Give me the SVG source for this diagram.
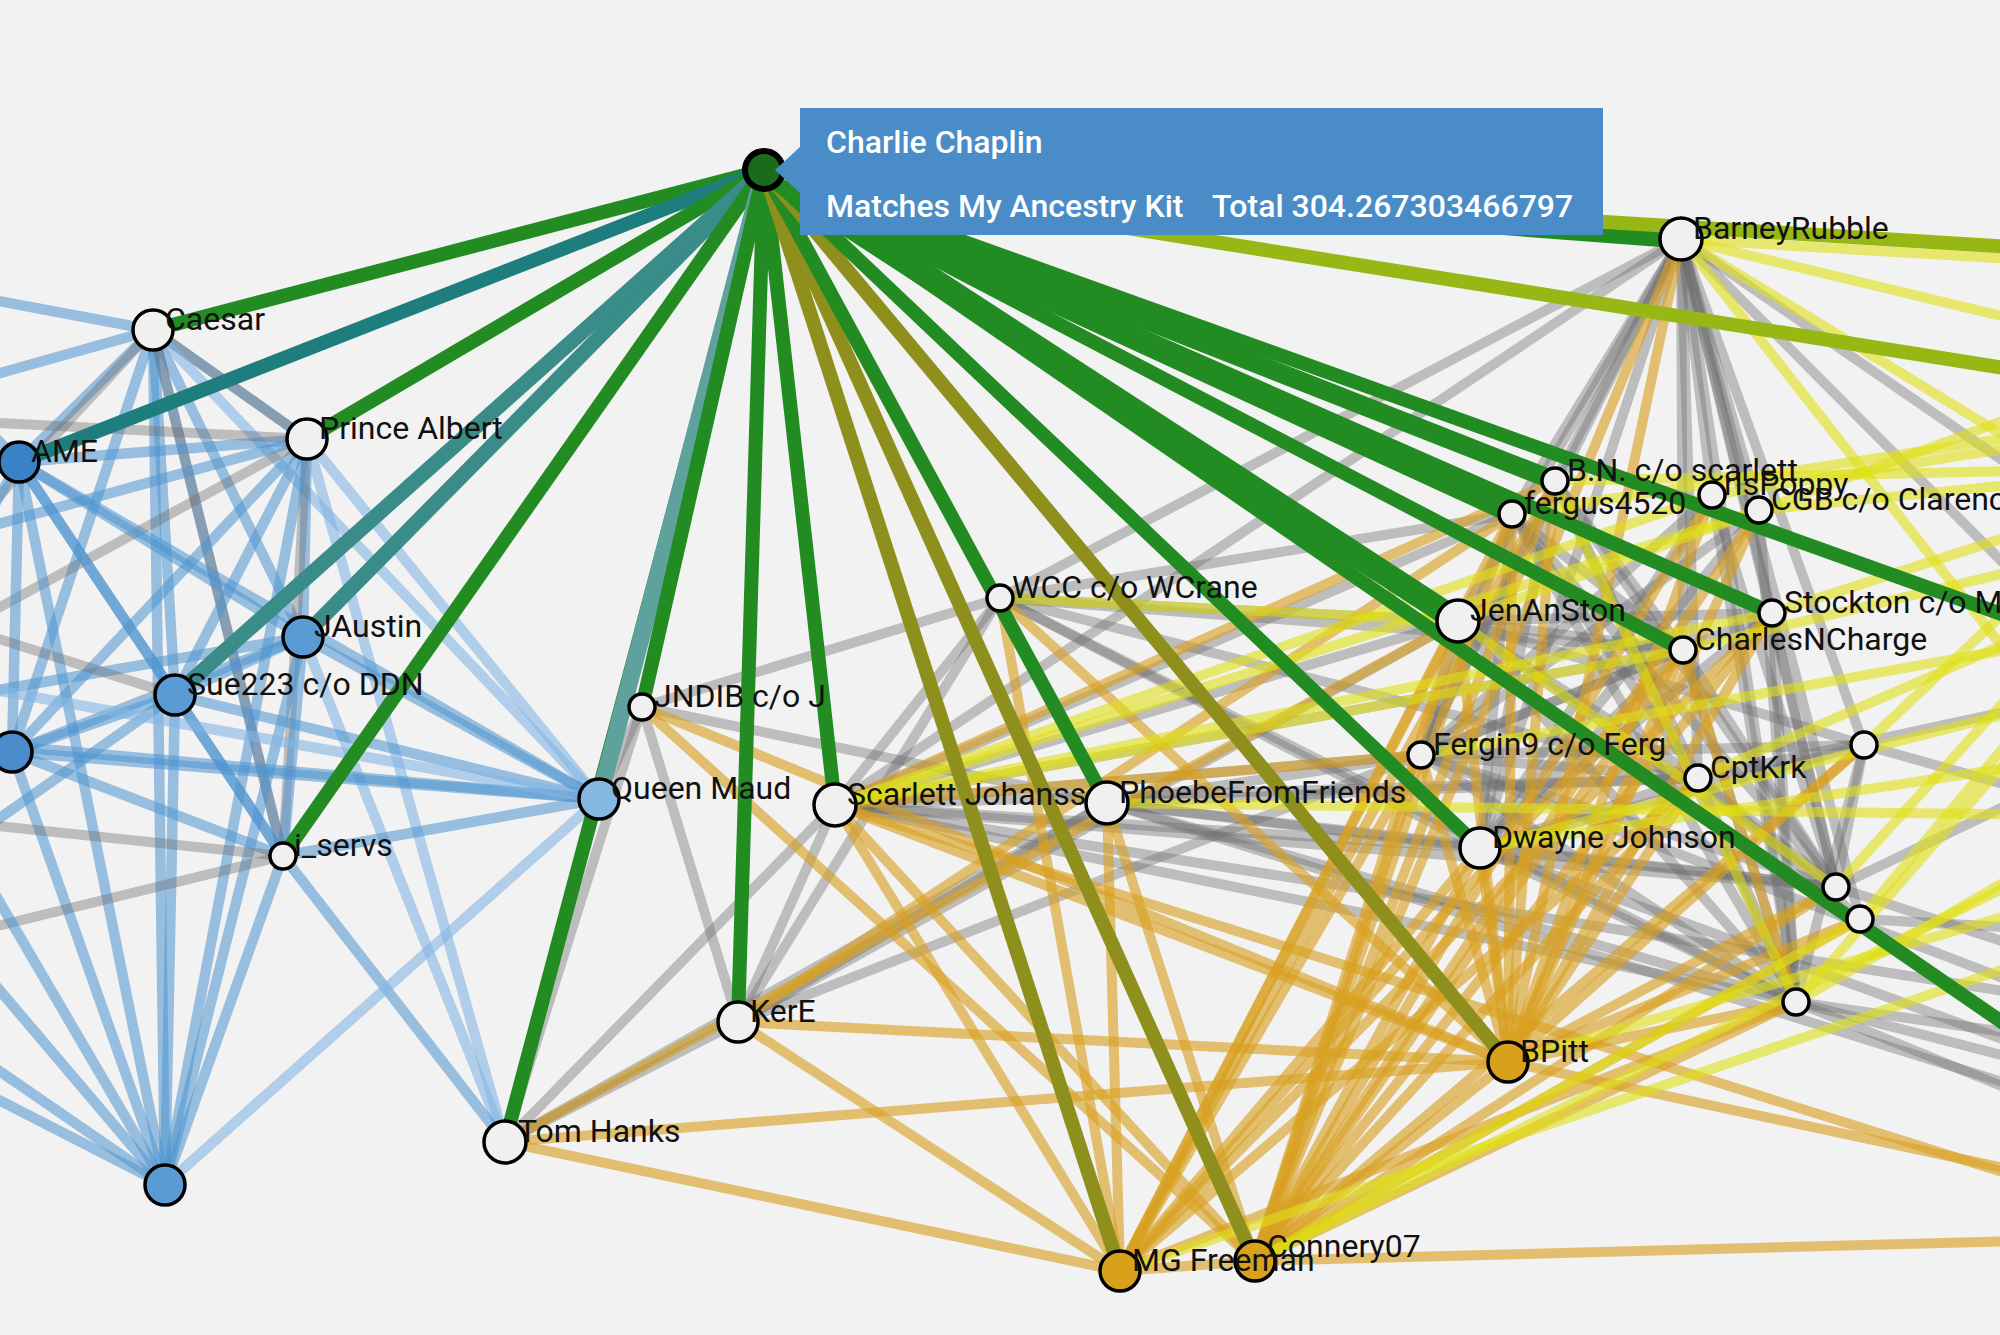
<svg xmlns="http://www.w3.org/2000/svg" width="2000" height="1335" viewBox="0 0 2000 1335">
<style>
line{fill:none}
.b{stroke:#4f93d0;stroke-opacity:.55;stroke-width:10.5}
.bl{stroke:#84b6e2;stroke-opacity:.6;stroke-width:10.5}
.k{stroke:#6f6f6f;stroke-opacity:.4;stroke-width:10}
.o{stroke:#d9a021;stroke-opacity:.62;stroke-width:10}
.y{stroke:#e0e014;stroke-opacity:.6;stroke-width:10}
.g{stroke:#228b22;stroke-width:14}
.gw{stroke:#228b22;stroke-width:24}
.gm{stroke:#228b22;stroke-width:19}
.tl{stroke:#1e7d7d;stroke-width:14}
.tm{stroke:#3a8c88;stroke-width:15}
.tq{stroke:#5fa19c;stroke-width:17}
.ol{stroke:#8e8f1c;stroke-width:14}
.yg{stroke:#97b714;stroke-width:14}
.n{stroke:#000;stroke-width:3.5}
.w{fill:#f0f0f0}
.lbl{font-family:Roboto,"Liberation Sans",sans-serif;font-size:32px;fill:#111}
.tt{font-family:Roboto,"Liberation Sans",sans-serif;font-size:32px;font-weight:500;fill:#fff}
</style>
<rect width="2000" height="1335" fill="#f2f2f2"/>
<g id="connectors">
<line class="b" x1="153" y1="330" x2="307" y2="439"/>
<line class="k" x1="153" y1="330" x2="307" y2="439"/>
<line class="b" x1="153" y1="330" x2="19" y2="462"/>
<line class="b" x1="153" y1="330" x2="303" y2="637"/>
<line class="b" x1="153" y1="330" x2="175" y2="695"/>
<line class="b" x1="153" y1="330" x2="12" y2="752"/>
<line class="b" x1="153" y1="330" x2="165" y2="1185"/>
<line class="bl" x1="153" y1="330" x2="599" y2="799"/>
<line class="b" x1="153" y1="330" x2="283" y2="856"/>
<line class="k" x1="153" y1="330" x2="283" y2="856"/>
<line class="b" x1="153" y1="330" x2="-60" y2="290"/>
<line class="b" x1="153" y1="330" x2="-60" y2="390"/>
<line class="k" x1="153" y1="330" x2="-60" y2="560"/>
<line class="b" x1="307" y1="439" x2="19" y2="462"/>
<line class="b" x1="307" y1="439" x2="303" y2="637"/>
<line class="b" x1="307" y1="439" x2="175" y2="695"/>
<line class="b" x1="307" y1="439" x2="12" y2="752"/>
<line class="k" x1="307" y1="439" x2="283" y2="856"/>
<line class="b" x1="307" y1="439" x2="165" y2="1185"/>
<line class="bl" x1="307" y1="439" x2="599" y2="799"/>
<line class="bl" x1="307" y1="439" x2="505" y2="1142"/>
<line class="k" x1="307" y1="439" x2="-60" y2="420"/>
<line class="k" x1="307" y1="439" x2="-60" y2="640"/>
<line class="b" x1="307" y1="439" x2="-60" y2="540"/>
<line class="b" x1="19" y1="462" x2="303" y2="637"/>
<line class="b" x1="19" y1="462" x2="175" y2="695"/>
<line class="b" x1="19" y1="462" x2="12" y2="752"/>
<line class="b" x1="19" y1="462" x2="283" y2="856"/>
<line class="b" x1="19" y1="462" x2="165" y2="1185"/>
<line class="b" x1="19" y1="462" x2="599" y2="799"/>
<line class="b" x1="19" y1="462" x2="-60" y2="600"/>
<line class="b" x1="19" y1="462" x2="-60" y2="380"/>
<line class="b" x1="303" y1="637" x2="175" y2="695"/>
<line class="b" x1="303" y1="637" x2="12" y2="752"/>
<line class="b" x1="303" y1="637" x2="283" y2="856"/>
<line class="b" x1="303" y1="637" x2="165" y2="1185"/>
<line class="b" x1="303" y1="637" x2="599" y2="799"/>
<line class="bl" x1="303" y1="637" x2="505" y2="1142"/>
<line class="b" x1="303" y1="637" x2="-60" y2="700"/>
<line class="b" x1="175" y1="695" x2="12" y2="752"/>
<line class="b" x1="175" y1="695" x2="283" y2="856"/>
<line class="b" x1="175" y1="695" x2="165" y2="1185"/>
<line class="b" x1="175" y1="695" x2="599" y2="799"/>
<line class="b" x1="175" y1="695" x2="-60" y2="860"/>
<line class="k" x1="175" y1="695" x2="-60" y2="620"/>
<line class="b" x1="12" y1="752" x2="283" y2="856"/>
<line class="b" x1="12" y1="752" x2="165" y2="1185"/>
<line class="b" x1="12" y1="752" x2="599" y2="799"/>
<line class="b" x1="283" y1="856" x2="165" y2="1185"/>
<line class="b" x1="283" y1="856" x2="599" y2="799"/>
<line class="b" x1="283" y1="856" x2="505" y2="1142"/>
<line class="k" x1="283" y1="856" x2="-60" y2="940"/>
<line class="k" x1="283" y1="856" x2="-60" y2="820"/>
<line class="bl" x1="599" y1="799" x2="165" y2="1185"/>
<line class="b" x1="599" y1="799" x2="-60" y2="740"/>
<line class="bl" x1="599" y1="799" x2="-60" y2="680"/>
<line class="k" x1="599" y1="799" x2="505" y2="1142"/>
<line class="b" x1="165" y1="1185" x2="-60" y2="920"/>
<line class="b" x1="165" y1="1185" x2="-60" y2="1030"/>
<line class="b" x1="165" y1="1185" x2="-60" y2="1070"/>
<line class="b" x1="165" y1="1185" x2="-60" y2="800"/>
<line class="k" x1="642" y1="707" x2="1000" y2="598"/>
<line class="k" x1="642" y1="707" x2="1107" y2="803"/>
<line class="k" x1="642" y1="707" x2="738" y2="1022"/>
<line class="k" x1="642" y1="707" x2="505" y2="1142"/>
<line class="k" x1="642" y1="707" x2="599" y2="799"/>
<line class="k" x1="835" y1="805" x2="1000" y2="598"/>
<line class="k" x1="835" y1="805" x2="738" y2="1022"/>
<line class="k" x1="835" y1="805" x2="505" y2="1142"/>
<line class="k" x1="835" y1="805" x2="1421" y2="755"/>
<line class="k" x1="835" y1="805" x2="1480" y2="848"/>
<line class="k" x1="835" y1="805" x2="1458" y2="621"/>
<line class="k" x1="835" y1="805" x2="1683" y2="650"/>
<line class="k" x1="835" y1="805" x2="1698" y2="778"/>
<line class="k" x1="835" y1="805" x2="1836" y2="887"/>
<line class="k" x1="835" y1="805" x2="1796" y2="1002"/>
<line class="k" x1="835" y1="805" x2="1681" y2="239"/>
<line class="k" x1="835" y1="805" x2="1512" y2="514"/>
<line class="k" x1="835" y1="805" x2="2060" y2="1000"/>
<line class="k" x1="1000" y1="598" x2="738" y2="1022"/>
<line class="k" x1="1000" y1="598" x2="1458" y2="621"/>
<line class="k" x1="1000" y1="598" x2="1683" y2="650"/>
<line class="k" x1="1000" y1="598" x2="1480" y2="848"/>
<line class="k" x1="1000" y1="598" x2="1698" y2="778"/>
<line class="k" x1="1000" y1="598" x2="1512" y2="514"/>
<line class="k" x1="1000" y1="598" x2="1681" y2="239"/>
<line class="k" x1="1000" y1="598" x2="1796" y2="1002"/>
<line class="k" x1="1107" y1="803" x2="738" y2="1022"/>
<line class="k" x1="1107" y1="803" x2="505" y2="1142"/>
<line class="k" x1="1107" y1="803" x2="1480" y2="848"/>
<line class="k" x1="1107" y1="803" x2="1698" y2="778"/>
<line class="k" x1="1107" y1="803" x2="1796" y2="1002"/>
<line class="k" x1="1107" y1="803" x2="1836" y2="887"/>
<line class="k" x1="1107" y1="803" x2="1421" y2="755"/>
<line class="k" x1="1107" y1="803" x2="2060" y2="1100"/>
<line class="k" x1="738" y1="1022" x2="505" y2="1142"/>
<line class="k" x1="738" y1="1022" x2="1421" y2="755"/>
<line class="k" x1="738" y1="1022" x2="1458" y2="621"/>
<line class="k" x1="1681" y1="239" x2="1512" y2="514"/>
<line class="k" x1="1681" y1="239" x2="1555" y2="481"/>
<line class="k" x1="1681" y1="239" x2="1458" y2="621"/>
<line class="k" x1="1681" y1="239" x2="1683" y2="650"/>
<line class="k" x1="1681" y1="239" x2="1698" y2="778"/>
<line class="k" x1="1681" y1="239" x2="1864" y2="745"/>
<line class="k" x1="1681" y1="239" x2="1836" y2="887"/>
<line class="k" x1="1681" y1="239" x2="1860" y2="919"/>
<line class="k" x1="1681" y1="239" x2="1796" y2="1002"/>
<line class="k" x1="1681" y1="239" x2="1421" y2="755"/>
<line class="k" x1="1681" y1="239" x2="1480" y2="848"/>
<line class="k" x1="1681" y1="239" x2="1772" y2="613"/>
<line class="k" x1="1681" y1="239" x2="1712" y2="495"/>
<line class="k" x1="1681" y1="239" x2="1759" y2="510"/>
<line class="k" x1="1681" y1="239" x2="2060" y2="620"/>
<line class="k" x1="1681" y1="239" x2="2060" y2="500"/>
<line class="k" x1="1458" y1="621" x2="1683" y2="650"/>
<line class="k" x1="1458" y1="621" x2="1698" y2="778"/>
<line class="k" x1="1458" y1="621" x2="1836" y2="887"/>
<line class="k" x1="1458" y1="621" x2="1796" y2="1002"/>
<line class="k" x1="1458" y1="621" x2="1772" y2="613"/>
<line class="k" x1="1458" y1="621" x2="1864" y2="745"/>
<line class="k" x1="1458" y1="621" x2="1421" y2="755"/>
<line class="k" x1="1512" y1="514" x2="1698" y2="778"/>
<line class="k" x1="1512" y1="514" x2="1796" y2="1002"/>
<line class="k" x1="1512" y1="514" x2="1836" y2="887"/>
<line class="k" x1="1512" y1="514" x2="1683" y2="650"/>
<line class="k" x1="1512" y1="514" x2="1480" y2="848"/>
<line class="k" x1="1512" y1="514" x2="1421" y2="755"/>
<line class="k" x1="1555" y1="481" x2="1836" y2="887"/>
<line class="k" x1="1555" y1="481" x2="1796" y2="1002"/>
<line class="k" x1="1555" y1="481" x2="1698" y2="778"/>
<line class="k" x1="1555" y1="481" x2="1480" y2="848"/>
<line class="k" x1="1555" y1="481" x2="1421" y2="755"/>
<line class="k" x1="1555" y1="481" x2="1683" y2="650"/>
<line class="k" x1="1712" y1="495" x2="1796" y2="1002"/>
<line class="k" x1="1712" y1="495" x2="1836" y2="887"/>
<line class="k" x1="1712" y1="495" x2="1421" y2="755"/>
<line class="k" x1="1712" y1="495" x2="1480" y2="848"/>
<line class="k" x1="1759" y1="510" x2="1796" y2="1002"/>
<line class="k" x1="1759" y1="510" x2="1421" y2="755"/>
<line class="k" x1="1759" y1="510" x2="1480" y2="848"/>
<line class="k" x1="1772" y1="613" x2="1796" y2="1002"/>
<line class="k" x1="1772" y1="613" x2="1421" y2="755"/>
<line class="k" x1="1772" y1="613" x2="1480" y2="848"/>
<line class="k" x1="1772" y1="613" x2="1836" y2="887"/>
<line class="k" x1="1683" y1="650" x2="1796" y2="1002"/>
<line class="k" x1="1683" y1="650" x2="1480" y2="848"/>
<line class="k" x1="1683" y1="650" x2="1836" y2="887"/>
<line class="k" x1="1683" y1="650" x2="1421" y2="755"/>
<line class="k" x1="1421" y1="755" x2="1796" y2="1002"/>
<line class="k" x1="1421" y1="755" x2="1836" y2="887"/>
<line class="k" x1="1421" y1="755" x2="1864" y2="745"/>
<line class="k" x1="1421" y1="755" x2="1698" y2="778"/>
<line class="k" x1="1480" y1="848" x2="1796" y2="1002"/>
<line class="k" x1="1480" y1="848" x2="1864" y2="745"/>
<line class="k" x1="1480" y1="848" x2="1836" y2="887"/>
<line class="k" x1="1480" y1="848" x2="1698" y2="778"/>
<line class="k" x1="1698" y1="778" x2="1796" y2="1002"/>
<line class="k" x1="1698" y1="778" x2="1836" y2="887"/>
<line class="k" x1="1698" y1="778" x2="1860" y2="919"/>
<line class="k" x1="1864" y1="745" x2="1796" y2="1002"/>
<line class="k" x1="1864" y1="745" x2="1836" y2="887"/>
<line class="k" x1="1796" y1="1002" x2="2060" y2="1070"/>
<line class="k" x1="1796" y1="1002" x2="2060" y2="1110"/>
<line class="k" x1="1796" y1="1002" x2="2060" y2="1040"/>
<line class="k" x1="1836" y1="887" x2="2060" y2="960"/>
<line class="k" x1="1860" y1="919" x2="2060" y2="930"/>
<line class="k" x1="1864" y1="745" x2="2060" y2="800"/>
<line class="k" x1="1421" y1="755" x2="2060" y2="1000"/>
<line class="k" x1="1480" y1="848" x2="2060" y2="1060"/>
<line class="k" x1="1698" y1="778" x2="2060" y2="700"/>
<line class="k" x1="1836" y1="887" x2="2060" y2="780"/>
<line class="o" x1="642" y1="707" x2="1508" y2="1062"/>
<line class="o" x1="642" y1="707" x2="1255" y2="1261"/>
<line class="o" x1="835" y1="805" x2="1120" y2="1271"/>
<line class="o" x1="835" y1="805" x2="1255" y2="1261"/>
<line class="o" x1="835" y1="805" x2="1508" y2="1062"/>
<line class="o" x1="835" y1="805" x2="2060" y2="1190"/>
<line class="o" x1="1000" y1="598" x2="1120" y2="1271"/>
<line class="o" x1="1000" y1="598" x2="1508" y2="1062"/>
<line class="o" x1="1107" y1="803" x2="1120" y2="1271"/>
<line class="o" x1="1107" y1="803" x2="1255" y2="1261"/>
<line class="o" x1="738" y1="1022" x2="1508" y2="1062"/>
<line class="o" x1="738" y1="1022" x2="1120" y2="1271"/>
<line class="o" x1="505" y1="1142" x2="1508" y2="1062"/>
<line class="o" x1="505" y1="1142" x2="1120" y2="1271"/>
<line class="o" x1="1458" y1="621" x2="505" y2="1142"/>
<line class="o" x1="1512" y1="514" x2="738" y2="1022"/>
<line class="o" x1="1555" y1="481" x2="835" y2="805"/>
<line class="o" x1="1120" y1="1271" x2="1512" y2="514"/>
<line class="o" x1="1120" y1="1271" x2="1555" y2="481"/>
<line class="o" x1="1120" y1="1271" x2="1458" y2="621"/>
<line class="o" x1="1120" y1="1271" x2="1421" y2="755"/>
<line class="o" x1="1120" y1="1271" x2="1683" y2="650"/>
<line class="o" x1="1120" y1="1271" x2="1698" y2="778"/>
<line class="o" x1="1120" y1="1271" x2="1480" y2="848"/>
<line class="o" x1="1120" y1="1271" x2="1796" y2="1002"/>
<line class="o" x1="1120" y1="1271" x2="1255" y2="1261"/>
<line class="o" x1="1120" y1="1271" x2="1772" y2="613"/>
<line class="o" x1="1255" y1="1261" x2="1458" y2="621"/>
<line class="o" x1="1255" y1="1261" x2="1512" y2="514"/>
<line class="o" x1="1255" y1="1261" x2="1555" y2="481"/>
<line class="o" x1="1255" y1="1261" x2="1421" y2="755"/>
<line class="o" x1="1255" y1="1261" x2="1480" y2="848"/>
<line class="o" x1="1255" y1="1261" x2="1683" y2="650"/>
<line class="o" x1="1255" y1="1261" x2="1698" y2="778"/>
<line class="o" x1="1255" y1="1261" x2="1772" y2="613"/>
<line class="o" x1="1255" y1="1261" x2="1864" y2="745"/>
<line class="o" x1="1255" y1="1261" x2="1836" y2="887"/>
<line class="o" x1="1255" y1="1261" x2="1796" y2="1002"/>
<line class="o" x1="1255" y1="1261" x2="2060" y2="1240"/>
<line class="o" x1="1255" y1="1261" x2="1508" y2="1062"/>
<line class="o" x1="1255" y1="1261" x2="1712" y2="495"/>
<line class="o" x1="1255" y1="1261" x2="1759" y2="510"/>
<line class="o" x1="1255" y1="1261" x2="1860" y2="919"/>
<line class="o" x1="1508" y1="1062" x2="1458" y2="621"/>
<line class="o" x1="1508" y1="1062" x2="1512" y2="514"/>
<line class="o" x1="1508" y1="1062" x2="1555" y2="481"/>
<line class="o" x1="1508" y1="1062" x2="1421" y2="755"/>
<line class="o" x1="1508" y1="1062" x2="1683" y2="650"/>
<line class="o" x1="1508" y1="1062" x2="1698" y2="778"/>
<line class="o" x1="1508" y1="1062" x2="1772" y2="613"/>
<line class="o" x1="1508" y1="1062" x2="1712" y2="495"/>
<line class="o" x1="1508" y1="1062" x2="1759" y2="510"/>
<line class="o" x1="1508" y1="1062" x2="1864" y2="745"/>
<line class="o" x1="1508" y1="1062" x2="1836" y2="887"/>
<line class="o" x1="1508" y1="1062" x2="1860" y2="919"/>
<line class="o" x1="1508" y1="1062" x2="1796" y2="1002"/>
<line class="o" x1="1508" y1="1062" x2="2060" y2="1180"/>
<line class="o" x1="1508" y1="1062" x2="1480" y2="848"/>
<line class="o" x1="1681" y1="239" x2="1508" y2="1062"/>
<line class="o" x1="1681" y1="239" x2="1255" y2="1261"/>
<line class="o" x1="1421" y1="755" x2="835" y2="805"/>
<line class="o" x1="1683" y1="650" x2="1796" y2="1002"/>
<line class="y" x1="835" y1="805" x2="1759" y2="510"/>
<line class="y" x1="835" y1="805" x2="1772" y2="613"/>
<line class="y" x1="835" y1="805" x2="1683" y2="650"/>
<line class="y" x1="835" y1="805" x2="1712" y2="495"/>
<line class="y" x1="1107" y1="803" x2="2060" y2="815"/>
<line class="y" x1="1000" y1="598" x2="1458" y2="621"/>
<line class="y" x1="1458" y1="621" x2="2060" y2="400"/>
<line class="y" x1="1512" y1="514" x2="2060" y2="430"/>
<line class="y" x1="1555" y1="481" x2="2060" y2="470"/>
<line class="y" x1="1683" y1="650" x2="2060" y2="560"/>
<line class="y" x1="1772" y1="613" x2="2060" y2="520"/>
<line class="y" x1="1712" y1="495" x2="2060" y2="440"/>
<line class="y" x1="1759" y1="510" x2="2060" y2="480"/>
<line class="y" x1="1421" y1="755" x2="2060" y2="640"/>
<line class="y" x1="1681" y1="239" x2="2060" y2="262"/>
<line class="y" x1="1681" y1="239" x2="2060" y2="330"/>
<line class="y" x1="1681" y1="239" x2="2060" y2="470"/>
<line class="y" x1="1681" y1="239" x2="2060" y2="720"/>
<line class="y" x1="1796" y1="1002" x2="2060" y2="700"/>
<line class="y" x1="1796" y1="1002" x2="2060" y2="850"/>
<line class="y" x1="1860" y1="919" x2="2060" y2="680"/>
<line class="y" x1="1836" y1="887" x2="2060" y2="640"/>
<line class="y" x1="1864" y1="745" x2="2060" y2="560"/>
<line class="y" x1="1698" y1="778" x2="2060" y2="620"/>
<line class="y" x1="1480" y1="848" x2="2060" y2="700"/>
<line class="y" x1="1480" y1="848" x2="2060" y2="760"/>
<line class="y" x1="1255" y1="1261" x2="2060" y2="860"/>
<line class="y" x1="1508" y1="1062" x2="2060" y2="900"/>
<line class="y" x1="1120" y1="1271" x2="2060" y2="950"/>
<line class="y" x1="1255" y1="1261" x2="1860" y2="919"/>
<line class="y" x1="1458" y1="621" x2="1836" y2="887"/>
<line class="y" x1="1555" y1="481" x2="1796" y2="1002"/>
<line class="g" x1="764" y1="170" x2="153" y2="330"/>
<line class="tl" x1="764" y1="170" x2="19" y2="462"/>
<line class="g" x1="764" y1="170" x2="307" y2="439"/>
<line class="tm" x1="764" y1="170" x2="303" y2="637"/>
<line class="tm" x1="764" y1="170" x2="175" y2="695"/>
<line class="g" x1="764" y1="170" x2="283" y2="856"/>
<line class="g" x1="764" y1="170" x2="505" y2="1142"/>
<line class="tq" x1="764" y1="170" x2="599" y2="799"/>
<line class="g" x1="764" y1="170" x2="642" y2="707"/>
<line class="g" x1="764" y1="170" x2="738" y2="1022"/>
<line class="g" x1="764" y1="170" x2="835" y2="805"/>
<line class="ol" x1="764" y1="170" x2="1120" y2="1271"/>
<line class="ol" x1="764" y1="170" x2="1255" y2="1261"/>
<line class="g" x1="764" y1="170" x2="1107" y2="803"/>
<line class="ol" x1="764" y1="170" x2="1508" y2="1062"/>
<line class="g" x1="764" y1="170" x2="1480" y2="848"/>
<line class="gw" x1="764" y1="170" x2="1458" y2="621"/>
<line class="gm" x1="764" y1="170" x2="1555" y2="481"/>
<line class="gm" x1="764" y1="170" x2="1512" y2="514"/>
<line class="g" x1="764" y1="170" x2="1683" y2="650"/>
<line class="g" x1="764" y1="170" x2="1772" y2="613"/>
<line class="g" x1="764" y1="170" x2="2060" y2="1062"/>
<line class="g" x1="764" y1="170" x2="2060" y2="635"/>
<line class="gm" x1="764" y1="170" x2="1681" y2="239"/>
<line class="yg" x1="764" y1="170" x2="2060" y2="377"/>
<line class="yg" x1="764" y1="170" x2="2060" y2="250"/>
</g>
<g id="node-caesar"><circle class="n w" cx="153" cy="330" r="20"/><text class="lbl" x="165" y="330">Caesar</text></g>
<g id="node-prince-albert"><circle class="n w" cx="307" cy="439" r="20"/><text class="lbl" x="319" y="439">Prince Albert</text></g>
<g id="node-ame"><circle class="n" fill="#3a82c5" cx="19" cy="462" r="20"/><text class="lbl" x="31" y="462">AME</text></g>
<g id="node-jaustin"><circle class="n" fill="#5b9bd5" cx="303" cy="637" r="20"/><text class="lbl" x="314" y="637">JAustin</text></g>
<g id="node-sue223"><circle class="n" fill="#5b9bd5" cx="175" cy="695" r="20"/><text class="lbl" x="187" y="695">Sue223 c/o DDN</text></g>
<g id="node-left"><circle class="n" fill="#4a8ccb" cx="12" cy="752" r="20"/></g>
<g id="node-i-servs"><circle class="n w" cx="283" cy="856" r="13"/><text class="lbl" x="294" y="856">i_servs</text></g>
<g id="node-queen-maud"><circle class="n" fill="#86b8e3" cx="599" cy="799" r="20"/><text class="lbl" x="611" y="799">Queen Maud</text></g>
<g id="node-bottom"><circle class="n" fill="#5a9bd3" cx="165" cy="1185" r="20"/></g>
<g id="node-tom-hanks"><circle class="n w" cx="505" cy="1142" r="21"/><text class="lbl" x="518" y="1142">Tom Hanks</text></g>
<g id="node-jndib"><circle class="n w" cx="642" cy="707" r="13"/><text class="lbl" x="654" y="707">JNDIB c/o J</text></g>
<g id="node-kere"><circle class="n w" cx="738" cy="1022" r="20"/><text class="lbl" x="750" y="1022">KerE</text></g>
<g id="node-wcc"><circle class="n w" cx="1000" cy="598" r="13"/><text class="lbl" x="1012" y="598">WCC c/o WCrane</text></g>
<g id="node-scarlett"><circle class="n w" cx="835" cy="805" r="21"/><text class="lbl" x="847" y="805">Scarlett Johanss</text></g>
<g id="node-phoebe"><circle class="n w" cx="1107" cy="803" r="21"/><text class="lbl" x="1119" y="803">PhoebeFromFriends</text></g>
<g id="node-connery07"><circle class="n" fill="#d9a01a" cx="1255" cy="1261" r="20"/><text class="lbl" x="1267" y="1257">Connery07</text></g>
<g id="node-mg-freeman"><circle class="n" fill="#d9a01a" cx="1120" cy="1271" r="20"/><text class="lbl" x="1132" y="1271">MG Freeman</text></g>
<g id="node-bpitt"><circle class="n" fill="#d9a01a" cx="1508" cy="1062" r="20"/><text class="lbl" x="1520" y="1062">BPitt</text></g>
<g id="node-barneyrubble"><circle class="n w" cx="1681" cy="239" r="21"/><text class="lbl" x="1693" y="239">BarneyRubble</text></g>
<g id="node-bn"><circle class="n w" cx="1555" cy="481" r="13"/><text class="lbl" x="1567" y="481">B.N. c/o scarlett</text></g>
<g id="node-fergus4520"><circle class="n w" cx="1512" cy="514" r="13"/><text class="lbl" x="1524" y="514">fergus4520</text></g>
<g id="node-poppy"><circle class="n w" cx="1712" cy="495" r="13"/><text class="lbl" x="1724" y="495">rlsPoppy</text></g>
<g id="node-cgb"><circle class="n w" cx="1759" cy="510" r="13"/><text class="lbl" x="1771" y="510">CGB c/o Clarenc</text></g>
<g id="node-jenanston"><circle class="n w" cx="1458" cy="621" r="21"/><text class="lbl" x="1470" y="621">JenAnSton</text></g>
<g id="node-stockton"><circle class="n w" cx="1772" cy="613" r="13"/><text class="lbl" x="1784" y="613">Stockton c/o M</text></g>
<g id="node-charlesncharge"><circle class="n w" cx="1683" cy="650" r="13"/><text class="lbl" x="1695" y="650">CharlesNCharge</text></g>
<g id="node-fergin9"><circle class="n w" cx="1421" cy="755" r="13"/><text class="lbl" x="1433" y="755">Fergin9 c/o Ferg</text></g>
<g id="node-cptkrk"><circle class="n w" cx="1698" cy="778" r="13"/><text class="lbl" x="1710" y="778">CptKrk</text></g>
<g id="node-u1"><circle class="n w" cx="1864" cy="745" r="13"/></g>
<g id="node-dwayne"><circle class="n w" cx="1480" cy="848" r="20"/><text class="lbl" x="1492" y="848">Dwayne Johnson</text></g>
<g id="node-u2"><circle class="n w" cx="1836" cy="887" r="13"/></g>
<g id="node-u3"><circle class="n w" cx="1860" cy="919" r="13"/></g>
<g id="node-u4"><circle class="n w" cx="1796" cy="1002" r="13"/></g>
<g id="node-charlie-chaplin"><circle stroke="#000" stroke-width="6" fill="#1c6a1c" cx="764" cy="170" r="19"/></g>
<g id="tooltip">
<rect x="800" y="108" width="803" height="127" fill="#4a8cc8"/>
<polygon points="801,146 775,170 801,194" fill="#4a8cc8"/>
<text class="tt" x="826" y="153">Charlie Chaplin</text>
<text class="tt" x="826" y="217">Matches My Ancestry Kit<tspan x="1212">Total 304.267303466797</tspan></text>
</g>
</svg>
